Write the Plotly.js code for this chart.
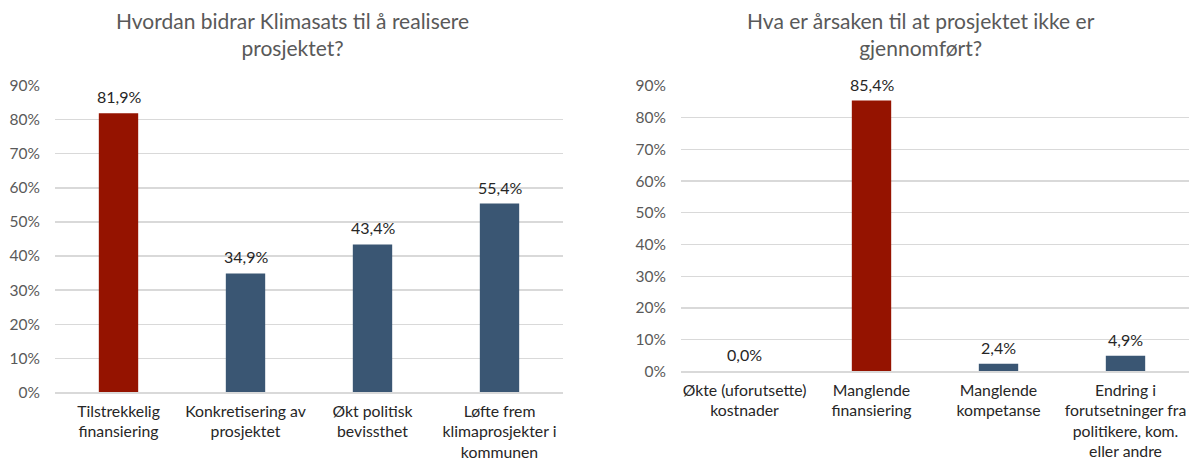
<!DOCTYPE html>
<html>
<head>
<meta charset="utf-8">
<script src="https://cdn.plot.ly/plotly-3.0.1.min.js"></script>
<style>
  html, body { margin: 0; padding: 0; background: #ffffff; }
  #chart { width: 1189px; height: 462px; }
</style>
</head>
<body>
<div id="chart"></div>
<script>
// ---- Data ----
const leftTitle = "Hvordan bidrar Klimasats til å realisere<br>prosjektet?";
const leftCategories = [
  "Tilstrekkelig<br>finansiering",
  "Konkretisering av<br>prosjektet",
  "Økt politisk<br>bevissthet",
  "Løfte frem<br>klimaprosjekter i<br>kommunen"
];
const leftValues = [0.819, 0.349, 0.434, 0.554];

const rightTitle = "Hva er årsaken til at prosjektet ikke er<br>gjennomført?";
const rightCategories = [
  "Økte (uforutsette)<br>kostnader",
  "Manglende<br>finansiering",
  "Manglende<br>kompetanse",
  "Endring i<br>forutsetninger fra<br>politikere, kom.<br>eller andre"
];
const rightValues = [0.0, 0.854, 0.024, 0.049];

const yTickValues = [0, 0.1, 0.2, 0.3, 0.4, 0.5, 0.6, 0.7, 0.8, 0.9];

// ---- Styles ----
const RED = "#951300";
const BLUE = "#3A5673";
const FONT = "Lato, 'Noto Sans', sans-serif";
const leftHighlight = 0;
const rightHighlight = 1;

function colorsFor(n, hi) {
  const c = [];
  for (let i = 0; i < n; i++) c.push(i === hi ? RED : BLUE);
  return c;
}

function fmtPct(v) {
  return (v * 100).toFixed(1).replace(".", ",") + "%";
}

function labelAnnotations(cats, vals, xref, yref) {
  return cats.map((c, i) => ({
    x: c, y: vals[i], xref: xref, yref: yref,
    text: fmtPct(vals[i]),
    showarrow: false, xanchor: "center", yanchor: "bottom",
    yshift: 5,
    font: { family: FONT, size: 16, color: "#262626" }
  }));
}

const traces = [
  {
    type: "bar",
    x: leftCategories,
    y: leftValues,
    xaxis: "x",
    yaxis: "y",
    width: 0.31,
    marker: { color: colorsFor(leftValues.length, leftHighlight) },
    hoverinfo: "x+y"
  },
  {
    type: "bar",
    x: rightCategories,
    y: rightValues,
    xaxis: "x2",
    yaxis: "y2",
    width: 0.31,
    marker: { color: colorsFor(rightValues.length, rightHighlight) },
    hoverinfo: "x+y"
  }
];

const yCommon = {
  range: [0, 0.9],
  tickvals: yTickValues,
  tickformat: ".0%",
  showgrid: true,
  gridcolor: "#D9D9D9",
  gridwidth: 1.3,
  zeroline: false,
  showline: false,
  ticks: "",
  ticklabelstandoff: 14,
  tickfont: { family: FONT, size: 15.5, color: "#595959" },
  fixedrange: true
};
const xCommon = {
  type: "category",
  showgrid: false,
  zeroline: false,
  showline: true,
  linecolor: "#D9D9D9",
  linewidth: 1.3,
  ticks: "",
  ticklabelstandoff: 4,
  tickangle: 0,
  tickfont: { family: FONT, size: 15.8, color: "#262626" },
  fixedrange: true
};

const W = 1189, H = 462;
const layout = {
  width: W,
  height: H,
  margin: { l: 0, r: 0, t: 0, b: 0 },
  paper_bgcolor: "#ffffff",
  plot_bgcolor: "#ffffff",
  showlegend: false,
  separators: ", ",
  font: { family: FONT, color: "#404040" },
  xaxis: Object.assign({}, xCommon, { domain: [55 / W, 563 / W], anchor: "y" }),
  yaxis: Object.assign({}, yCommon, { domain: [(H - 392.3) / H, (H - 85.7) / H], anchor: "x" }),
  xaxis2: Object.assign({}, xCommon, { domain: [681 / W, 1189 / W], anchor: "y2" }),
  yaxis2: Object.assign({}, yCommon, { domain: [(H - 371.3) / H, (H - 86) / H], anchor: "x2" }),
  annotations: [
    {
      text: leftTitle, xref: "paper", yref: "paper",
      x: 292 / W, y: 1 - 6 / H, xanchor: "center", yanchor: "top",
      showarrow: false, align: "center",
      font: { family: FONT, size: 21, color: "#595959" }
    },
    {
      text: rightTitle, xref: "paper", yref: "paper",
      x: 921 / W, y: 1 - 6 / H, xanchor: "center", yanchor: "top",
      showarrow: false, align: "center",
      font: { family: FONT, size: 21, color: "#595959" }
    }
  ].concat(
    labelAnnotations(leftCategories, leftValues, "x", "y"),
    labelAnnotations(rightCategories, rightValues, "x2", "y2")
  )
};

Plotly.newPlot("chart", traces, layout, { displayModeBar: false, staticPlot: true });
</script>
</body>
</html>
